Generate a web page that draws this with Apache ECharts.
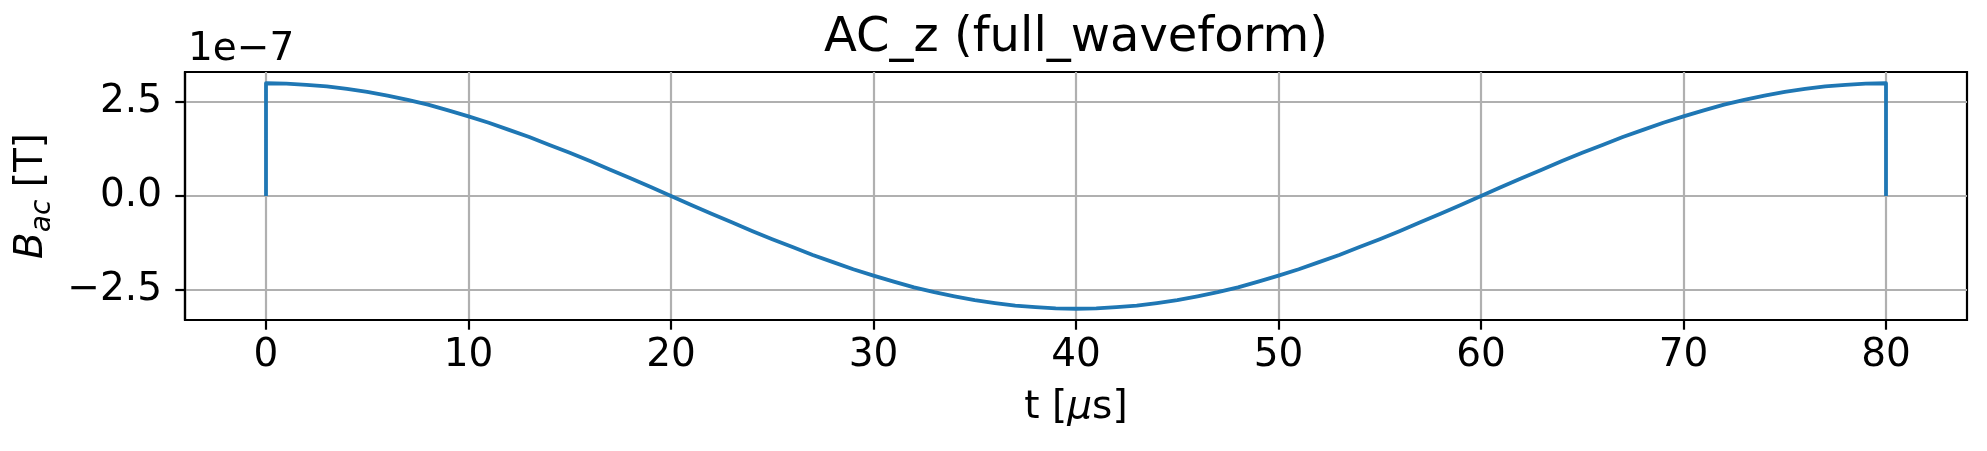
<!DOCTYPE html>
<html>
<head>
<meta charset="utf-8">
<script src="https://cdn.jsdelivr.net/npm/echarts@6/dist/echarts.min.js"></script>
<style>
html,body{margin:0;padding:0;background:#fff;}
#chart{width:1987px;height:451px;}
</style>
</head>
<body>
<div id="chart"></div>
<script>
// time in microseconds (step at start and end of the pulse)
var timeUs = [0, 0, 1, 2, 3, 4, 5, 6, 7, 8, 9, 10, 11, 12, 13, 14, 15, 16, 17, 18, 19, 20,
              21, 22, 23, 24, 25, 26, 27, 28, 29, 30, 31, 32, 33, 34, 35, 36, 37, 38, 39, 40,
              41, 42, 43, 44, 45, 46, 47, 48, 49, 50, 51, 52, 53, 54, 55, 56, 57, 58, 59, 60,
              61, 62, 63, 64, 65, 66, 67, 68, 69, 70, 71, 72, 73, 74, 75, 76, 77, 78, 79, 80, 80];
// B_ac in units of 1e-7 T
var bac = [0, 3.00, 2.99, 2.96, 2.92, 2.85, 2.77, 2.67, 2.56, 2.43, 2.28, 2.12, 1.95, 1.76, 1.57, 1.36, 1.15, 0.93, 0.70, 0.47, 0.24, 0.00,
           -0.24, -0.47, -0.70, -0.93, -1.15, -1.36, -1.57, -1.76, -1.95, -2.12, -2.28, -2.43, -2.56, -2.67, -2.77, -2.85, -2.92, -2.96, -2.99, -3.00,
           -2.99, -2.96, -2.92, -2.85, -2.77, -2.67, -2.56, -2.43, -2.28, -2.12, -1.95, -1.76, -1.57, -1.36, -1.15, -0.93, -0.70, -0.47, -0.24, 0.00,
           0.24, 0.47, 0.70, 0.93, 1.15, 1.36, 1.57, 1.76, 1.95, 2.12, 2.28, 2.43, 2.56, 2.67, 2.77, 2.85, 2.92, 2.96, 2.99, 3.00, 0];
var xTicks = [0, 10, 20, 30, 40, 50, 60, 70, 80];
var yTicks = [-2.5, 0, 2.5];
var offsetText = '1e\u22127';
var titleText = 'AC_z (full_waveform)';

var seriesData = timeUs.map(function (t, i) { return [t, bac[i]]; });
var FONT = 'DejaVu Sans';

var chart = echarts.init(document.getElementById('chart'), null, {renderer: 'canvas'});
chart.setOption({
  animation: false,
  backgroundColor: '#ffffff',
  title: [
    {text: titleText, left: 1076, top: 15, padding: 0, textAlign: 'center',
     textStyle: {fontFamily: FONT, fontSize: 48, fontWeight: 'normal', color: '#000'}},
    {text: offsetText, left: 188, top: 30, padding: 0, textAlign: 'left',
     textStyle: {fontFamily: FONT, fontSize: 39, fontWeight: 'normal', color: '#000'}}
  ],
  grid: {left: 185, right: 20, top: 72, bottom: 131, containLabel: false,
         show: true, borderColor: '#000', borderWidth: 2.2, backgroundColor: 'transparent'},
  xAxis: {
    type: 'value', min: -4, max: 84, splitNumber: 9,
    name: 't [{i|\u03bc}s]', nameLocation: 'middle', nameGap: 68,
    nameTextStyle: {fontFamily: FONT, fontSize: 39, color: '#000',
      rich: {i: {fontFamily: FONT, fontSize: 39, fontStyle: 'italic', color: '#000'}}},
    axisLine: {show: true, onZero: false, lineStyle: {color: '#000', width: 2.2}},
    axisTick: {show: true, inside: false, length: 9.7, customValues: xTicks,
               lineStyle: {color: '#000', width: 2.2}},
    axisLabel: {show: true, margin: 16, customValues: xTicks,
                fontFamily: FONT, fontSize: 39, color: '#000'},
    splitLine: {show: true, lineStyle: {color: '#b0b0b0', width: 2.2}}
  },
  yAxis: {
    type: 'value', min: -3.3, max: 3.3,
    name: '{b|B}{s|ac}{n| [T]}', nameLocation: 'middle', nameRotate: 90, nameGap: 122,
    nameTextStyle: {fontFamily: FONT, fontSize: 39, color: '#000',
      rich: {
        b: {fontFamily: FONT, fontSize: 39, fontStyle: 'italic', color: '#000', lineHeight: 50},
        s: {fontFamily: FONT, fontSize: 28, fontStyle: 'italic', color: '#000', lineHeight: 28, verticalAlign: 'bottom'},
        n: {fontFamily: FONT, fontSize: 39, color: '#000', lineHeight: 50}
      }},
    axisLine: {show: true, onZero: false, lineStyle: {color: '#000', width: 2.2}},
    axisTick: {show: true, inside: false, length: 9.7, customValues: yTicks,
               lineStyle: {color: '#000', width: 2.2}},
    axisLabel: {show: true, margin: 23, customValues: yTicks,
                fontFamily: FONT, fontSize: 39, color: '#000',
                formatter: function (v) { return (v < 0 ? '\u2212' : '') + Math.abs(v).toFixed(1); }},
    splitLine: {show: true, lineStyle: {color: '#b0b0b0', width: 2.2}}
  },
  series: [{
    type: 'line', data: seriesData, showSymbol: false, symbol: 'none',
    lineStyle: {color: '#1f77b4', width: 3.8, join: 'round'},
    itemStyle: {color: '#1f77b4'},
    z: 3
  }]
});
</script>
</body>
</html>
